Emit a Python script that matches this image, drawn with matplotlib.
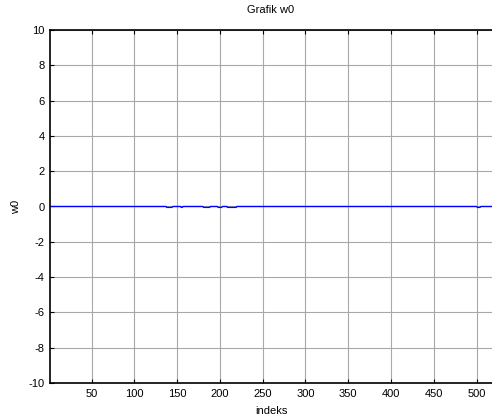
import matplotlib
matplotlib.use("Agg")
import matplotlib.pyplot as plt
import numpy as np

# breakpoints of the w0 curve (index, value)
x_pts = [1, 137, 138, 144, 145, 154, 155, 156, 157, 180, 181, 188, 189,
         197, 198, 202, 203, 208, 209, 219, 220, 500, 501, 504, 505, 518]
y_pts = [0, 0, -0.05, -0.05, 0, 0, -0.05, -0.05, 0, 0, -0.05, -0.05, 0,
         0, -0.05, -0.05, 0, 0, -0.05, -0.05, 0, 0, -0.05, -0.05, 0, 0]

x_ticks = [50, 100, 150, 200, 250, 300, 350, 400, 450, 500]
y_ticks = [-10, -8, -6, -4, -2, 0, 2, 4, 6, 8, 10]

plt.rcParams['font.family'] = ['Liberation Sans', 'DejaVu Sans']
plt.rcParams['axes.unicode_minus'] = False

fig = plt.figure(figsize=(4.92, 4.19), dpi=100)
ax = fig.add_axes([50/492, 1 - 383/419, 1 - 50/492, (383 - 30)/419])

ax.plot(x_pts, y_pts, color='#0000ff', linewidth=1.0)

ax.set_xlim(1.5, 518)
ax.set_ylim(-10, 10)
ax.set_xticks(x_ticks)
ax.set_yticks(y_ticks)
ax.grid(True, color='#a8a8a8', linewidth=0.8, linestyle='-')
ax.tick_params(direction='in', top=True, right=False, labelsize=8,
               length=3, width=0.8, pad=4)
for s in ['left', 'top', 'bottom']:
    ax.spines[s].set_linewidth(1.2)
ax.spines['right'].set_visible(False)

ax.set_title('Grafik w0', fontsize=8, pad=12)
ax.set_xlabel('indeks', fontsize=8, labelpad=5)
ax.set_ylabel('w0', fontsize=8, labelpad=5)

fig.savefig('out.png', dpi=100)
